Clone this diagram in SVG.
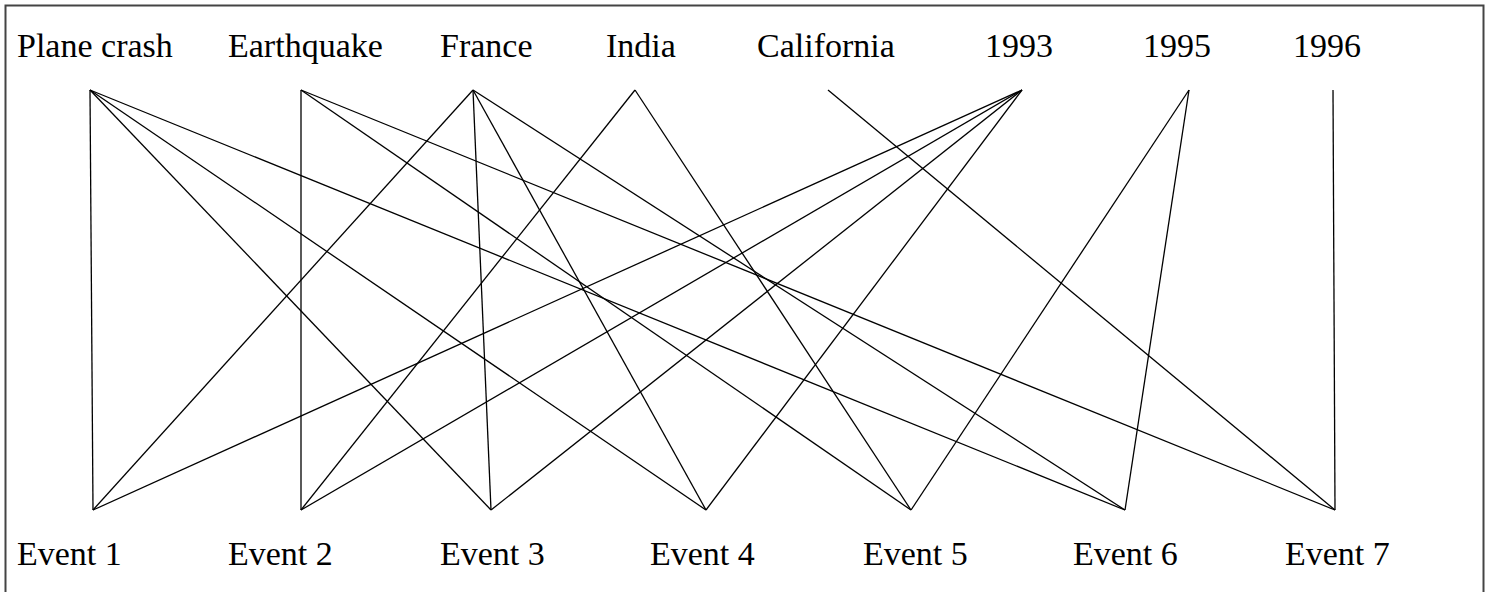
<svg xmlns="http://www.w3.org/2000/svg" width="1491" height="592" viewBox="0 0 1491 592">
<style>
.t{font-family:'Liberation Serif','Times New Roman',Tinos,'DejaVu Serif','Noto Serif',serif;font-size:34px;fill:#000}
.e line{stroke:#000;stroke-width:1.3;fill:none}
</style>
<rect x="0" y="0" width="1491" height="592" fill="#fff"/>
<rect x="5.5" y="5.5" width="1478" height="600" fill="none" stroke="#444" stroke-width="2"/>
<g class="t" font-family="Liberation Serif, Times New Roman, DejaVu Serif, serif">
<g id="n-plane"><text x="17" y="57">Plane crash</text></g>
<g id="n-earthquake"><text x="228" y="57">Earthquake</text></g>
<g id="n-france"><text x="440" y="57">France</text></g>
<g id="n-india"><text x="606" y="57">India</text></g>
<g id="n-california"><text x="757" y="57">California</text></g>
<g id="n-1993"><text x="985" y="57">1993</text></g>
<g id="n-1995"><text x="1143" y="57">1995</text></g>
<g id="n-1996"><text x="1293" y="57">1996</text></g>
<g id="n-e1"><text x="17" y="565">Event 1</text></g>
<g id="n-e2"><text x="228" y="565">Event 2</text></g>
<g id="n-e3"><text x="440" y="565">Event 3</text></g>
<g id="n-e4"><text x="650" y="565">Event 4</text></g>
<g id="n-e5"><text x="863" y="565">Event 5</text></g>
<g id="n-e6"><text x="1073" y="565">Event 6</text></g>
<g id="n-e7"><text x="1285" y="565">Event 7</text></g>
</g>
<g id="connectors" class="e">
<line x1="90" y1="90" x2="93" y2="510"/>
<line x1="90" y1="90" x2="491" y2="510"/>
<line x1="90" y1="90" x2="706" y2="510"/>
<line x1="90" y1="90" x2="1125" y2="510"/>
<line x1="301" y1="90" x2="301" y2="510"/>
<line x1="301" y1="90" x2="911" y2="510"/>
<line x1="301" y1="90" x2="1335" y2="510"/>
<line x1="473" y1="90" x2="93" y2="510"/>
<line x1="473" y1="90" x2="491" y2="510"/>
<line x1="473" y1="90" x2="706" y2="510"/>
<line x1="473" y1="90" x2="1125" y2="510"/>
<line x1="635" y1="90" x2="301" y2="510"/>
<line x1="635" y1="90" x2="911" y2="510"/>
<line x1="828" y1="90" x2="1335" y2="510"/>
<line x1="1022" y1="90" x2="93" y2="510"/>
<line x1="1022" y1="90" x2="301" y2="510"/>
<line x1="1022" y1="90" x2="491" y2="510"/>
<line x1="1022" y1="90" x2="706" y2="510"/>
<line x1="1189" y1="90" x2="911" y2="510"/>
<line x1="1189" y1="90" x2="1125" y2="510"/>
<line x1="1333" y1="90" x2="1335" y2="510"/>
</g>
</svg>
